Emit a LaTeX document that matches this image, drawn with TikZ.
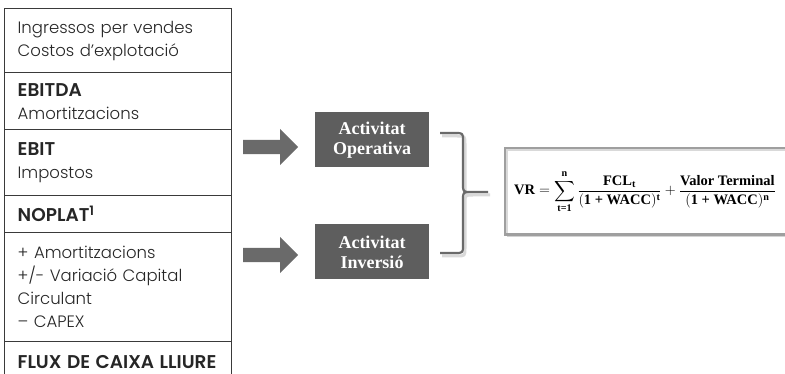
\documentclass[tikz,border=0pt]{standalone}
\usepackage{amsmath}
\usepackage{fontspec}
\setmainfont{Poppins}[UprightFont={* Light}, BoldFont={* SemiBold}]
\newfontfamily\boxfont{Liberation Serif}
\usepackage{tikz}
\usetikzlibrary{shapes.arrows,shadows}

\definecolor{rowline}{HTML}{3A3A3A}
\definecolor{boxgray}{HTML}{5E5E5E}
\definecolor{arrgray}{HTML}{6A6A6A}

\newcommand{\rowtitle}[1]{{\fontsize{18.5}{23}\selectfont\bfseries #1}}

\tikzset{
  rowbox/.style={draw=rowline, line width=1.4pt, anchor=north west, minimum width=227pt,
    text width=201pt, inner xsep=13pt, align=left, text=black!85,
    font=\fontsize{16.5}{23}\selectfont},
  actbox/.style={fill=boxgray, minimum width=114pt, minimum height=55pt, align=center,
    text=white, font=\boxfont\bfseries\fontsize{18}{20}\selectfont},
  bigarrow/.style={single arrow, fill=arrgray, minimum height=55pt, inner xsep=0pt,
    inner ysep=7pt, single arrow head extend=11pt, anchor=west}
}

\begin{document}
\begin{tikzpicture}[x=1pt, y=-1pt]
    \useasboundingbox (0,0) rectangle (785,374);
    \clip (0,0) rectangle (785,374);

    % Table rows
    \node[rowbox, minimum height=64pt] (ingressos) at (4,8) {Ingressos per vendes\\Costos d’explotació};
    \node[rowbox, minimum height=57pt] (ebitda) at (4,72) {\rowtitle{EBITDA}\\Amortitzacions};
    \node[rowbox, minimum height=66pt] (ebit) at (4,129) {\rowtitle{EBIT}\\Impostos};
    \node[rowbox, minimum height=37pt] (noplat) at (4,195) {\rowtitle{NOPLAT\textsuperscript{1}}};
    \node[rowbox, minimum height=109pt] (ajustos) at (4,232) {+ Amortitzacions\\+/- Variació Capital\\Circulant\\– CAPEX};
    \node[rowbox, minimum height=40pt] (flux) at (4,341) {\rowtitle{FLUX DE CAIXA LLIURE}};

    % Gray arrows
    \node[bigarrow] (arrop) at (243,147) {};
    \node[bigarrow] (arrinv) at (243,255) {};

    % Activity boxes
    \node[actbox] (operativa) at (372,140) {Activitat\\Operativa};
    \node[actbox] (inversio) at (372,252) {Activitat\\Inversió};

    % Brace (soft shadow first)
    \coordinate (bracetip) at (488,192);
    \draw[black!15, line width=3pt, line join=round, shift={(2,3)}]
        (440,133) -- (455,133) .. controls (463,133) .. (463,141) -- (463,184)
        .. controls (463,192) .. (471,192) -- (488,192)
        (471,192) .. controls (463,192) .. (463,200) -- (463,245)
        .. controls (463,253) .. (455,253) -- (440,253);
    \draw[arrgray, line width=2.2pt, line join=round]
        (440,133) -- (455,133) .. controls (463,133) .. (463,141) -- (463,184)
        .. controls (463,192) .. (471,192) -- (bracetip)
        (471,192) .. controls (463,192) .. (463,200) -- (463,245)
        .. controls (463,253) .. (455,253) -- (440,253);

    % Formula
    \node[draw=gray!75, line width=3pt, fill=white, anchor=north west, minimum width=300pt,
        minimum height=86pt, drop shadow={shadow xshift=1pt, shadow yshift=-3pt, opacity=0.35}]
        (vrbox) at (504,147) {};
    \draw[gray!30, line width=2pt] ([shift={(3,-3)}]vrbox.south west) |- ([shift={(3,3)}]vrbox.north east);
    \node[anchor=west, inner sep=0pt] (vr) at (514,192) {\boxfont\bfseries\fontsize{14.5}{17}\selectfont
        $\text{VR} = \displaystyle\sum_{\text{t=1}}^{\text{n}} \frac{\text{FCL}_{\text{t}}}{(\text{1 + WACC})^{\text{t}}}
        + \frac{\text{Valor Terminal}}{(\text{1 + WACC})^{\text{n}}}$};
\end{tikzpicture}
\end{document}
